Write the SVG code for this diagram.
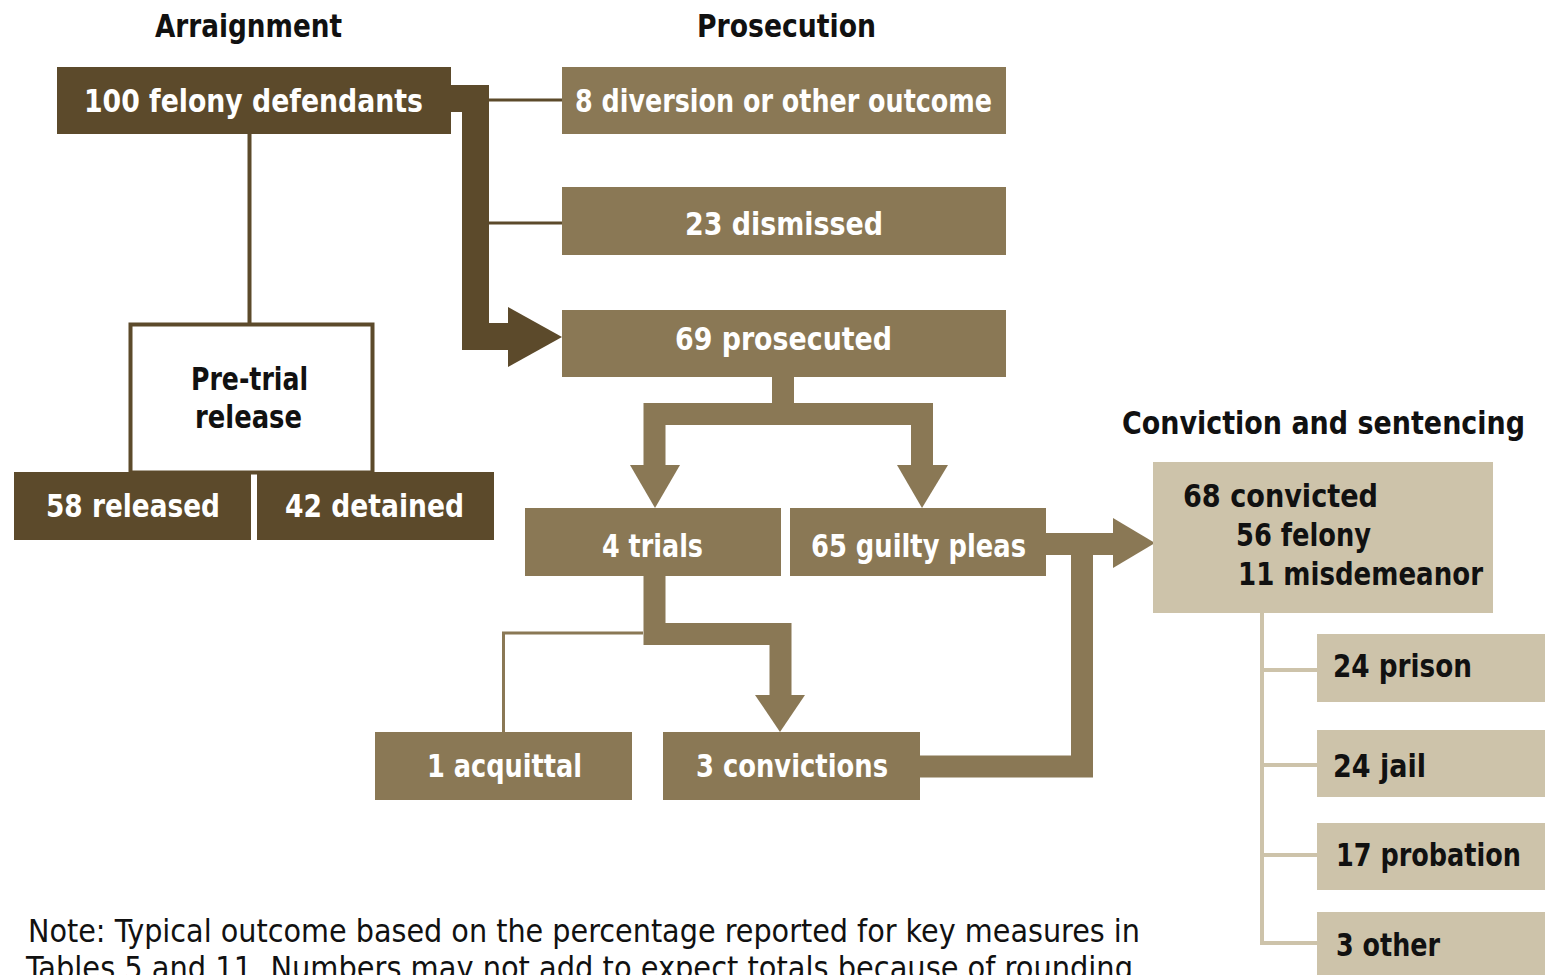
<svg xmlns="http://www.w3.org/2000/svg" width="1545" height="975" viewBox="0 0 1545 975">
<style>
text{font-family:'Liberation Sans Narrow','DejaVu Sans Condensed','Liberation Sans',sans-serif;font-size:32px;font-weight:bold;font-stretch:condensed}
.dk{fill:#5c4a2b}
.md{fill:#8a7855}
.lt{fill:#cdc3aa}
.w{fill:#ffffff;text-anchor:middle}
.b{fill:#111111}
.h{fill:#111111;text-anchor:middle}
.note{font-weight:normal;fill:#111111}
.thick{fill:none;stroke-linejoin:miter}
</style>
<rect width="1545" height="975" fill="#ffffff"/>
<g id="connectors">
<path d="M249.5 134 V324" stroke="#5c4a2b" stroke-width="4" fill="none"/>
<path d="M489 100 H562 M489 223 H562" stroke="#5c4a2b" stroke-width="3" fill="none"/>
<path class="thick" d="M451 98.5 H475.5 V336.5 H512" stroke="#5c4a2b" stroke-width="27"/>
<polygon points="508,307 562,337 508,367" fill="#5c4a2b"/>
<path class="thick" d="M783 377 V414" stroke="#8a7855" stroke-width="22"/>
<path class="thick" d="M654.5 467 V414 H922 V467" stroke="#8a7855" stroke-width="22"/>
<polygon points="630,465 680,465 655,508" fill="#8a7855"/>
<polygon points="897,465 948,465 922,508" fill="#8a7855"/>
<path class="thick" d="M654.5 576 V634 H780.5 V697" stroke="#8a7855" stroke-width="22"/>
<polygon points="755,695 805,695 780,732" fill="#8a7855"/>
<path d="M643 633 H503.5 V732" stroke="#8a7855" stroke-width="3" fill="none"/>
<path class="thick" d="M920 766.5 H1082 V544" stroke="#8a7855" stroke-width="22"/>
<path class="thick" d="M1046 544 H1115" stroke="#8a7855" stroke-width="22"/>
<polygon points="1113,518 1155,543 1113,568" fill="#8a7855"/>
<path d="M1262 613 V943 H1317 M1262 670 H1317 M1262 765 H1317 M1262 855 H1317" stroke="#cdc3aa" stroke-width="4" fill="none"/>
</g>
<g id="headers">
<text class="h" x="248.5" y="37" textLength="187" lengthAdjust="spacingAndGlyphs">Arraignment</text>
<text class="h" x="786.5" y="37" textLength="179" lengthAdjust="spacingAndGlyphs">Prosecution</text>
<text class="h" x="1323.5" y="434" textLength="403" lengthAdjust="spacingAndGlyphs">Conviction and sentencing</text>
</g>
<g id="n100">
<rect class="dk" x="57" y="67" width="394" height="67"/>
<text class="w" x="253.5" y="112" textLength="339" lengthAdjust="spacingAndGlyphs">100 felony defendants</text>
</g>
<g id="ndiversion">
<rect class="md" x="562" y="67" width="444" height="67"/>
<text class="w" x="783.5" y="112" textLength="417" lengthAdjust="spacingAndGlyphs">8 diversion or other outcome</text>
</g>
<g id="ndismissed">
<rect class="md" x="562" y="187" width="444" height="68"/>
<text class="w" x="784" y="235" textLength="198" lengthAdjust="spacingAndGlyphs">23 dismissed</text>
</g>
<g id="nprosecuted">
<rect class="md" x="562" y="310" width="444" height="67"/>
<text class="w" x="783.5" y="350" textLength="217" lengthAdjust="spacingAndGlyphs">69 prosecuted</text>
</g>
<g id="npretrial">
<rect x="130.5" y="324.5" width="242" height="148" fill="none" stroke="#5c4a2b" stroke-width="4"/>
<text class="h" x="249.5" y="390" textLength="117" lengthAdjust="spacingAndGlyphs">Pre-trial</text>
<text class="h" x="248.5" y="428" textLength="107" lengthAdjust="spacingAndGlyphs">release</text>
</g>
<g id="nreleased">
<rect class="dk" x="14" y="472" width="237" height="68"/>
<text class="w" x="133" y="517" textLength="174" lengthAdjust="spacingAndGlyphs">58 released</text>
</g>
<g id="ndetained">
<rect class="dk" x="257" y="472" width="237" height="68"/>
<text class="w" x="374.5" y="517" textLength="179" lengthAdjust="spacingAndGlyphs">42 detained</text>
</g>
<g id="ntrials">
<rect class="md" x="525" y="508" width="256" height="68"/>
<text class="w" x="652.5" y="557" textLength="101" lengthAdjust="spacingAndGlyphs">4 trials</text>
</g>
<g id="npleas">
<rect class="md" x="790" y="508" width="256" height="68"/>
<text class="w" x="918.5" y="557" textLength="215" lengthAdjust="spacingAndGlyphs">65 guilty pleas</text>
</g>
<g id="nacquittal">
<rect class="md" x="375" y="732" width="257" height="68"/>
<text class="w" x="504.5" y="777" textLength="155" lengthAdjust="spacingAndGlyphs">1 acquittal</text>
</g>
<g id="nconvictions">
<rect class="md" x="663" y="732" width="257" height="68"/>
<text class="w" x="792" y="777" textLength="192" lengthAdjust="spacingAndGlyphs">3 convictions</text>
</g>
<g id="nconvicted">
<rect class="lt" x="1153" y="462" width="340" height="151"/>
<text class="b" x="1183" y="507" textLength="195" lengthAdjust="spacingAndGlyphs">68 convicted</text>
<text class="b" x="1236" y="546" textLength="135" lengthAdjust="spacingAndGlyphs">56 felony</text>
<text class="b" x="1238" y="585" textLength="245" lengthAdjust="spacingAndGlyphs">11 misdemeanor</text>
</g>
<g id="nprison">
<rect class="lt" x="1317" y="634" width="230" height="68"/>
<text class="b" x="1333" y="677" textLength="139" lengthAdjust="spacingAndGlyphs">24 prison</text>
</g>
<g id="njail">
<rect class="lt" x="1317" y="730" width="230" height="67"/>
<text class="b" x="1333" y="777" textLength="93" lengthAdjust="spacingAndGlyphs">24 jail</text>
</g>
<g id="nprobation">
<rect class="lt" x="1317" y="823" width="230" height="67"/>
<text class="b" x="1336" y="866" textLength="185" lengthAdjust="spacingAndGlyphs">17 probation</text>
</g>
<g id="nother">
<rect class="lt" x="1317" y="912" width="230" height="70"/>
<text class="b" x="1336" y="956" textLength="104" lengthAdjust="spacingAndGlyphs">3 other</text>
</g>
<g id="note">
<text class="note" x="28" y="942" textLength="1112" lengthAdjust="spacingAndGlyphs">Note: Typical outcome based on the percentage reported for key measures in</text>
<text class="note" x="26" y="979" textLength="1107" lengthAdjust="spacingAndGlyphs">Tables 5 and 11. Numbers may not add to expect totals because of rounding</text>
</g>
</svg>
